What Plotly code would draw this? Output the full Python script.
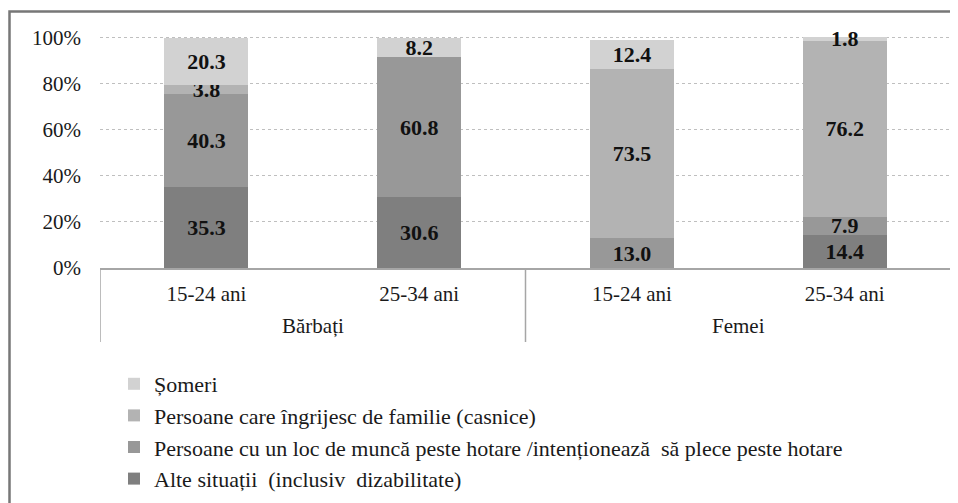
import plotly.graph_objects as go

groups = ["Bărbați", "Femei"]
ages = ["15-24 ani", "25-34 ani", "15-24 ani", "25-34 ani"]
group_of_bar = [0, 0, 1, 1]

series_names = [
    "Alte situații  (inclusiv  dizabilitate)",
    "Persoane cu un loc de muncă peste hotare /intenționează  să plece peste hotare",
    "Persoane care îngrijesc de familie (casnice)",
    "Șomeri",
]
alte = [35.3, 30.6, 0.0, 14.4]
hotare = [40.3, 60.8, 13.0, 7.9]
casnice = [3.8, 0.0, 73.5, 76.2]
someri = [20.3, 8.2, 12.4, 1.8]
series_values = [alte, hotare, casnice, someri]
colors = ["#7f7f7f", "#989898", "#b3b3b3", "#d2d2d2"]

y_ticks = [0, 20, 40, 60, 80, 100]
y_tick_labels = [f"{v}%" for v in y_ticks]
Y_MAX = 100.6

FONT = "Liberation Serif, Times New Roman, serif"
TXT = "#1a1a1a"

xpos = list(range(len(ages)))

fig = go.Figure()
n = len(series_names)
for i, (name, vals, col) in enumerate(zip(series_names, series_values, colors)):
    fig.add_trace(go.Bar(
        x=xpos, y=vals, name=name,
        marker=dict(color=col, line=dict(width=0)),
        text=[f"{v:.1f}" if v > 0 else "" for v in vals],
        textposition="inside", insidetextanchor="middle",
        textfont=dict(family=FONT, size=22, color="#111111", weight="bold"),
        legendgroup=name, legendrank=n - i, cliponaxis=False,
    ))

# page body has an 8px margin; figure coordinates = screen coordinates - 8
W, H = 950, 495
L, R, B = 92, 7, 235
T = 28
pw, ph = W - L - R, H - T - B

def px(xp):
    return (xp - L) / pw

def py(yp):
    return (H - B - yp) / ph

bounds = [-0.5]
centres = []
for g in range(len(groups)):
    idx = [k for k, gg in enumerate(group_of_bar) if gg == g]
    centres.append(sum(idx) / len(idx))
    bounds.append(max(idx) + 0.5)

shapes = [dict(
    type="rect", xref="paper", yref="paper",
    x0=px(1.5), x1=px(970), y0=py(515), y1=py(3.5),
    line=dict(color="#777777", width=2.5), fillcolor="rgba(0,0,0,0)",
    layer="below",
)]
for bx in bounds:
    shapes.append(dict(
        type="line", xref="x", yref="paper",
        x0=bx, x1=bx, y0=0, y1=py(334),
        line=dict(color="#a6a6a6", width=1.5),
    ))

annotations = [dict(
    x=c, y=py(318), xref="x", yref="paper", text=g, showarrow=False,
    font=dict(family=FONT, size=21, color=TXT), yanchor="middle",
) for g, c in zip(groups, centres)]

fig.update_layout(
    width=W, height=H, barmode="stack", bargap=0.605,
    margin=dict(l=L, r=R, t=T, b=B, autoexpand=False),
    paper_bgcolor="white", plot_bgcolor="white",
    font=dict(family=FONT, size=21, color=TXT),
    uniformtext=dict(minsize=22, mode="show"),
    showlegend=True,
    legend=dict(
        x=px(106), y=py(355), xanchor="left", yanchor="top",
        traceorder="grouped", tracegroupgap=0,
        font=dict(family=FONT, size=22, color=TXT),
        itemwidth=30, bgcolor="rgba(0,0,0,0)",
    ),
    xaxis=dict(
        range=[-0.5, len(ages) - 0.5], tickvals=xpos, ticktext=ages,
        showline=True, linecolor="#a6a6a6", linewidth=1.5,
        ticks="", showgrid=False, zeroline=False,
        ticklabelstandoff=6,
        tickfont=dict(family=FONT, size=21, color=TXT),
    ),
    yaxis=dict(
        range=[0, Y_MAX], tickvals=y_ticks, ticktext=y_tick_labels,
        showgrid=True, gridcolor="#bfbfbf", griddash="dot", gridwidth=1,
        zeroline=False, showline=False, ticks="",
        ticklabelstandoff=18,
        tickfont=dict(family=FONT, size=21, color=TXT),
    ),
    shapes=shapes,
    annotations=annotations,
)

fig.write_html("out.html")
